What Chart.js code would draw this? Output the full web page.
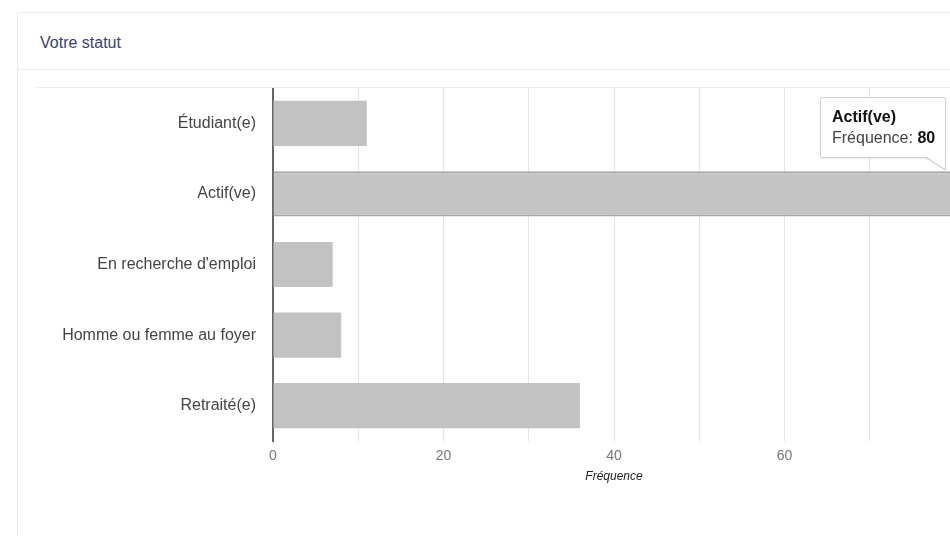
<!DOCTYPE html>
<html>
<head>
<meta charset="utf-8">
<script src="https://cdn.jsdelivr.net/npm/chart.js@4.4.1/dist/chart.umd.min.js"></script>
<style>
  html, body { margin: 0; padding: 0; background: #fff; overflow: hidden; width: 950px; height: 536px; }
  .card { position: absolute; left: 17px; top: 12px; width: 1000px; height: 600px; border: 1px solid #ededed; border-radius: 3px; font-family: "Liberation Sans", Arial, sans-serif; }
  .card-header { height: 56px; border-bottom: 1px solid #ededed; padding-left: 22px; line-height: 60px; font-size: 16px; color: #3a3f6d; }
  .chart-wrap { position: absolute; left: 18px; top: 74px; width: 919px; height: 395px; border-top: 1px solid #ececec; }
  #tip { position: absolute; background: #fff; border: 1px solid #cfcfcf; border-radius: 2px; padding: 8px 10px 9px 11px; font-family: "Liberation Sans", Arial, sans-serif; font-size: 16px; line-height: 21px; color: #444; white-space: nowrap; pointer-events: none; box-shadow: 0 1px 2px rgba(0,0,0,0.08); }
  #tip .t { font-weight: bold; color: #111; }
  #tip b { color: #111; }
  #tip .caret { position: absolute; right: -1px; bottom: -14px; width: 0; height: 0; border-left: 22px solid transparent; border-top: 14px solid #cfcfcf; }
  #tip .caret:after { content: ""; position: absolute; right: 1px; top: -15px; width: 0; height: 0; border-left: 20px solid transparent; border-top: 13px solid #fff; }
</style>
</head>
<body>
<div class="card">
  <div class="card-header">Votre statut</div>
  <div class="chart-wrap"><canvas id="statut"></canvas></div>
</div>
<div id="tip" style="display:none"></div>
<script>
const categories = ["Étudiant(e)", "Actif(ve)", "En recherche d'emploi", "Homme ou femme au foyer", "Retraité(e)"];
const frequencies = [11, 80, 7, 8, 36];
const axisTitle = "Fréquence";
const activeIndex = 1;

// caret sits on the top edge of the bar, near its end
Chart.Tooltip.positioners.barEnd = function (items) {
  if (!items.length) return false;
  const el = items[0].element;
  return { x: el.x - 12, y: el.y - el.height / 2 };
};

const tipEl = document.getElementById('tip');

function externalTip(context) {
  const tooltip = context.tooltip;
  if (tooltip.opacity === 0 || !tooltip.dataPoints || !tooltip.dataPoints.length) {
    tipEl.style.display = 'none';
    return;
  }
  const dp = tooltip.dataPoints[0];
  tipEl.innerHTML = '<div class="t">' + dp.label + '</div>' +
    '<div>' + axisTitle + ': <b>' + dp.raw + '</b></div>' +
    '<div class="caret"></div>';
  tipEl.style.display = 'block';
  const rect = context.chart.canvas.getBoundingClientRect();
  const w = tipEl.offsetWidth, h = tipEl.offsetHeight;
  tipEl.style.left = (rect.left + tooltip.caretX - w + 3) + 'px';
  tipEl.style.top = (rect.top + tooltip.caretY - h - 13) + 'px';
}

const ctx = document.getElementById('statut');
const chart = new Chart(ctx, {
  type: 'bar',
  data: {
    labels: categories,
    datasets: [{
      label: axisTitle,
      data: frequencies,
      backgroundColor: '#c2c2c2',
      hoverBackgroundColor: '#c4c4c4',
      hoverBorderColor: '#a6a6a6',
      hoverBorderWidth: 2,
      barPercentage: 0.8,
      categoryPercentage: 0.8
    }]
  },
  options: {
    indexAxis: 'y',
    responsive: true,
    maintainAspectRatio: false,
    animation: false,
    events: [],
    layout: { padding: 0 },
    scales: {
      y: {
        grid: { display: false },
        border: { display: true, color: '#666', width: 2 },
        ticks: { color: '#444', padding: 9, font: { family: 'Liberation Sans', size: 16 } },
        afterFit(scale) {
          scale.width = 237;
          scale.paddingTop = 0;
          scale.paddingBottom = 0;
        }
      },
      x: {
        min: 0,
        max: 80,
        grid: { color: '#e4e4e4', drawTicks: false },
        border: { display: false },
        ticks: {
          stepSize: 10,
          padding: 8,
          color: '#777',
          font: { family: 'Liberation Sans', size: 14, lineHeight: 1 },
          callback: (v) => (v % 20 === 0 && v < 80 ? v : '')
        },
        title: {
          display: true,
          text: axisTitle,
          color: '#222',
          padding: { top: 0, bottom: 0 },
          font: { family: 'Liberation Sans', size: 12, style: 'italic', lineHeight: 1 }
        },
        afterFit(scale) {
          scale.paddingLeft = 0;
          scale.paddingRight = 0;
        }
      }
    },
    plugins: {
      legend: { display: false },
      tooltip: { enabled: false, position: 'barEnd', external: externalTip }
    }
  }
});

chart.setActiveElements([{ datasetIndex: 0, index: activeIndex }]);
chart.tooltip.setActiveElements([{ datasetIndex: 0, index: activeIndex }], { x: 0, y: 0 });
chart.update();
</script>
</body>
</html>
